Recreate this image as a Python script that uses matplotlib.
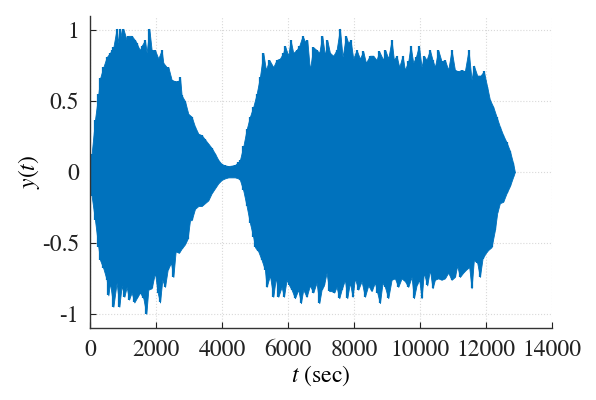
import numpy as np
import matplotlib
matplotlib.use("Agg")
import matplotlib.pyplot as plt

# upper envelope of y(t) (t in sec)
t_upper = [0, 51, 152, 253, 304, 405, 506, 607, 657, 708, 808, 859, 910, 960, 1010,
           1112, 1162, 1263, 1364, 1415, 1465, 1516, 1566, 1667, 1717, 1798, 1869,
           1970, 2071, 2172, 2222, 2323, 2374, 2475, 2576, 2677, 2728, 2778, 2879,
           2980, 3081, 3182, 3283, 3384, 3485, 3586, 3687, 3788, 3889, 3990, 4091,
           4192, 4293, 4394, 4495, 4545, 4646, 4747, 4848, 4949, 5050, 5151, 5252,
           5333, 5434, 5555, 5656, 5757, 5858, 5909, 6010, 6080, 6161, 6262, 6343,
           6444, 6515, 6585, 6666, 6767, 6868, 6949, 7040, 7121, 7191, 7272, 7373,
           7474, 7575, 7656, 7757, 7828, 7898, 7979, 8080, 8181, 8282, 8363, 8484,
           8585, 8686, 8767, 8888, 8949, 9040, 9141, 9212, 9292, 9373, 9474, 9545,
           9646, 9717, 9797, 9878, 9969, 10050, 10120, 10201, 10302, 10383, 10454,
           10555, 10656, 10757, 10858, 10959, 11060, 11161, 11262, 11362, 11474,
           11565, 11635, 11737, 11837, 11938, 12039, 12120, 12221, 12322, 12423,
           12524, 12625, 12726, 12827, 12878]
y_upper = [0, 0.13, 0.37, 0.55, 0.66, 0.74, 0.81, 0.84, 0.86, 0.88, 1.01, 0.91, 1.01,
           0.95, 1.01, 0.93, 0.96, 0.96, 0.93, 0.91, 0.88, 0.86, 0.89, 0.93, 0.84,
           1.01, 0.86, 0.86, 0.80, 0.86, 0.77, 0.74, 0.74, 0.65, 0.64, 0.64, 0.67,
           0.54, 0.50, 0.41, 0.39, 0.32, 0.27, 0.26, 0.23, 0.20, 0.17, 0.13, 0.085,
           0.056, 0.047, 0.042, 0.045, 0.05, 0.07, 0.085, 0.18, 0.30, 0.39, 0.46,
           0.55, 0.67, 0.84, 0.72, 0.79, 0.74, 0.79, 0.80, 0.84, 0.89, 0.82, 0.93,
           0.84, 0.86, 0.89, 0.96, 0.92, 0.93, 0.72, 0.88, 0.86, 0.84, 0.96, 0.82,
           0.93, 0.84, 0.82, 0.86, 1.01, 0.81, 0.96, 0.91, 0.93, 0.80, 0.86, 0.80,
           0.85, 0.77, 0.82, 0.82, 0.79, 0.85, 0.79, 0.86, 0.80, 0.93, 0.79, 0.82,
           0.74, 0.82, 0.72, 0.78, 0.89, 0.77, 0.81, 0.89, 0.74, 0.82, 0.79, 0.86,
           0.79, 0.74, 0.86, 0.78, 0.79, 0.72, 0.86, 0.72, 0.71, 0.72, 0.71, 0.86,
           0.65, 0.75, 0.68, 0.68, 0.71, 0.60, 0.51, 0.46, 0.39, 0.32, 0.26, 0.21,
           0.15, 0.06, 0]

# lower envelope
t_lower = [0, 51, 152, 253, 304, 405, 506, 556, 607, 708, 808, 889, 960, 1041, 1112,
           1182, 1263, 1344, 1415, 1516, 1617, 1707, 1768, 1869, 1970, 2051, 2122,
           2192, 2273, 2354, 2455, 2526, 2596, 2697, 2778, 2879, 2960, 3031, 3081,
           3182, 3283, 3384, 3485, 3586, 3687, 3788, 3889, 3990, 4091, 4192, 4293,
           4394, 4495, 4545, 4646, 4747, 4848, 4949, 5000, 5101, 5202, 5303, 5353,
           5454, 5555, 5636, 5707, 5808, 5878, 5959, 6040, 6111, 6212, 6313, 6393,
           6464, 6565, 6666, 6767, 6868, 6949, 7020, 7090, 7171, 7252, 7323, 7403,
           7474, 7555, 7626, 7727, 7797, 7878, 7959, 8030, 8131, 8232, 8333, 8434,
           8535, 8636, 8706, 8787, 8868, 8939, 9040, 9141, 9242, 9343, 9444, 9545,
           9646, 9747, 9817, 9898, 9979, 10050, 10120, 10221, 10302, 10383, 10454,
           10555, 10656, 10757, 10858, 10959, 11060, 11130, 11211, 11312, 11393,
           11494, 11565, 11635, 11737, 11817, 11898, 11999, 12070, 12171, 12272,
           12342, 12423, 12524, 12625, 12726, 12827, 12878]
y_lower = [-0.033, -0.17, -0.34, -0.53, -0.62, -0.68, -0.76, -0.87, -0.78, -0.95,
           -0.78, -0.95, -0.80, -0.88, -0.81, -0.90, -0.85, -0.92, -0.89, -0.85,
           -0.89, -1.0, -0.83, -0.82, -0.71, -0.85, -0.92, -0.76, -0.81, -0.69,
           -0.64, -0.74, -0.56, -0.57, -0.54, -0.51, -0.47, -0.34, -0.34, -0.26,
           -0.24, -0.24, -0.22, -0.20, -0.15, -0.115, -0.08, -0.056, -0.045, -0.038,
           -0.038, -0.038, -0.045, -0.056, -0.13, -0.24, -0.36, -0.46, -0.53, -0.56,
           -0.62, -0.69, -0.81, -0.73, -0.88, -0.74, -0.88, -0.81, -0.88, -0.76,
           -0.80, -0.83, -0.89, -0.83, -0.925, -0.83, -0.88, -0.80, -0.85, -0.78,
           -0.925, -0.83, -0.80, -0.71, -0.84, -0.84, -0.85, -0.81, -0.89, -0.83,
           -0.76, -0.89, -0.78, -0.88, -0.75, -0.83, -0.77, -0.88, -0.80, -0.84,
           -0.78, -0.85, -0.925, -0.78, -0.81, -0.89, -0.76, -0.75, -0.81, -0.75,
           -0.77, -0.81, -0.74, -0.89, -0.80, -0.76, -0.89, -0.71, -0.80, -0.69,
           -0.82, -0.76, -0.75, -0.76, -0.75, -0.71, -0.76, -0.74, -0.66, -0.74,
           -0.71, -0.69, -0.67, -0.82, -0.62, -0.64, -0.74, -0.61, -0.57, -0.55,
           -0.53, -0.41, -0.29, -0.22, -0.21, -0.15, -0.10, -0.033, 0]

x_ticks = [0, 2000, 4000, 6000, 8000, 10000, 12000, 14000]
y_ticks = [-1, -0.5, 0, 0.5, 1]
y_ticklabels = ["-1", "-0.5", "0", "0.5", "1"]

blue = "#0072BD"

plt.rcParams["font.family"] = ["STIXGeneral", "DejaVu Serif"]
plt.rcParams["mathtext.fontset"] = "stix"
plt.rcParams["axes.unicode_minus"] = False

fig = plt.figure(figsize=(5.96, 4.0), dpi=100)
ax = fig.add_axes([0.151, 0.18, 0.775, 0.78])

# the signal oscillates so fast it reads as a filled band with a comb edge
ax.fill_between(t_upper, 0, y_upper, color=blue, lw=0.6)
ax.fill_between(t_lower, y_lower, 0, color=blue, lw=0.6)
ax.vlines(t_upper, 0, y_upper, color=blue, lw=1.6)
ax.vlines(t_lower, y_lower, 0, color=blue, lw=1.6)

ax.set_xlim(0, 14000)
ax.set_ylim(-1.1, 1.1)
ax.set_xticks(x_ticks)
ax.set_xticklabels([str(v) for v in x_ticks])
ax.set_yticks(y_ticks)
ax.set_yticklabels(y_ticklabels)

ax.grid(True, linestyle=":", color="#d9d9d9", linewidth=0.8)
ax.set_axisbelow(True)
for s in ["top", "right"]:
    ax.spines[s].set_visible(False)
for s in ["left", "bottom"]:
    ax.spines[s].set_color("#333333")
    ax.spines[s].set_linewidth(1.0)
ax.tick_params(direction="in", length=4, width=0.8, colors="#222222",
               labelsize=17, pad=8)

ax.set_xlabel("$t$ (sec)", fontsize=17, labelpad=2)
ax.set_ylabel("$y(t)$", fontsize=17, labelpad=0)

fig.savefig("out.png", dpi=100)
